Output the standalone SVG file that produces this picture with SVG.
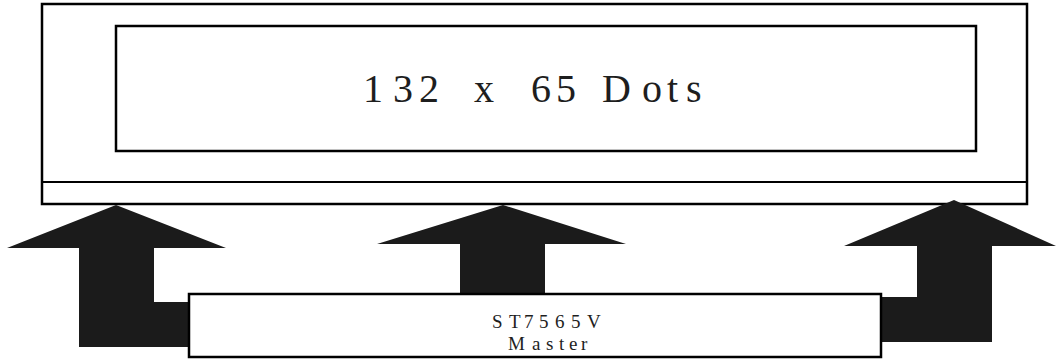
<svg xmlns="http://www.w3.org/2000/svg" width="1056" height="361" viewBox="0 0 1056 361">
<style>
.box{fill:#fff;stroke:#000;stroke-width:2.5}
.line{stroke:#000;stroke-width:2;fill:none}
.arrow{fill:#1b1b1b;stroke:none}
.t{font-family:"Liberation Serif","Times New Roman",serif;fill:#1e1e1e}
</style>
<g id="lcd-panel">
<rect class="box" x="42" y="4" width="985" height="200"/>
<line class="line" x1="42" y1="182" x2="1027" y2="182"/>
</g>
<g id="dots-area">
<rect class="box" x="116" y="26" width="860" height="125"/>
<text class="t" font-size="40" y="102" x="363 393 419 440 474 495 531 556 580 602 642 667 686">132 x 65 Dots</text>
</g>
<g id="connectors">
<polygon class="arrow" points="116,205 226,248 154,248 154,302 190,302 190,347 79,347 79,248 7,248"/>
<polygon class="arrow" points="503,205 626,244 545,244 545,295 460,295 460,244 377,244"/>
<polygon class="arrow" points="954,200 1056,246 992,246 992,342 880,342 880,297 917,297 917,246 844,246"/>
</g>
<g id="master">
<rect class="box" x="189" y="294" width="692" height="63" stroke-width="3"/>
<text class="t" font-size="19" y="328" x="492 509 524 539 555 571 587">ST7565V</text>
<text class="t" font-size="19" y="350" x="508 532 546 559 569 581">Master</text>
</g>
</svg>
